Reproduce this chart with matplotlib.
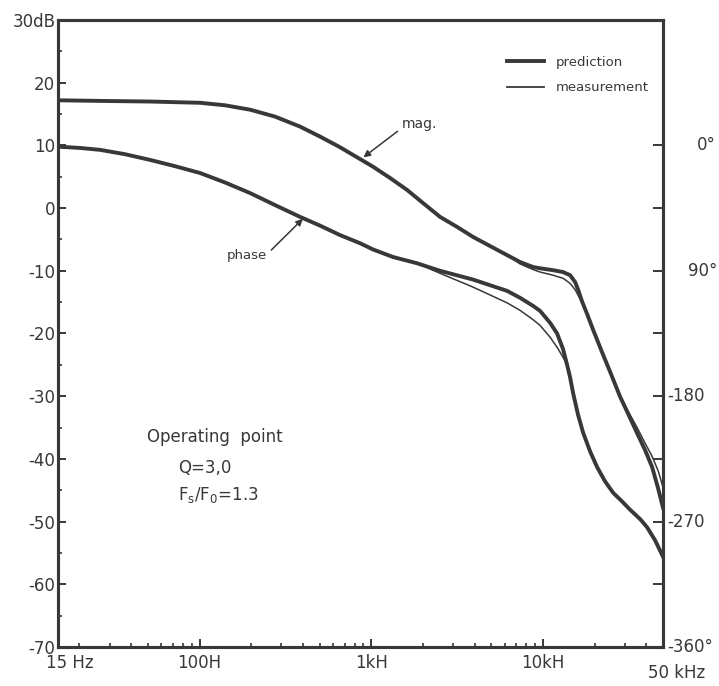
import matplotlib
matplotlib.use('Agg')
import matplotlib.pyplot as plt
from matplotlib.lines import Line2D
from matplotlib.ticker import FixedLocator, NullFormatter
from matplotlib.transforms import blended_transform_factory

# magnitude (dB)
mag_freq = [15, 26.4, 51.5, 100.7, 140.8, 197, 275, 385, 504, 659, 1025, 1288, 1617, 2004,
            2517, 3162, 3918, 6182, 7360, 8762, 9627, 11450, 13100, 14390, 15390, 16020,
            16900, 18080, 19590, 22100, 24600, 28140, 31320, 35340, 39340, 43220, 46840, 50000]
mag_pred = [17.2, 17.1, 17.0, 16.8, 16.4, 15.7, 14.6, 13.0, 11.4, 9.7, 6.6, 4.8, 2.9, 0.8,
            -1.4, -3.0, -4.6, -7.5, -8.6, -9.4, -9.6, -9.9, -10.2, -10.7, -11.8, -13.0,
            -14.9, -16.9, -19.4, -23.0, -26.1, -30.1, -32.8, -35.9, -38.6, -41.3, -44.7, -47.8]
mag_meas = [17.2, 17.1, 17.0, 16.8, 16.4, 15.7, 14.6, 13.0, 11.4, 9.7, 6.6, 4.8, 2.9, 0.8,
            -1.4, -3.0, -4.6, -7.5, -8.9, -9.8, -10.2, -10.7, -11.2, -12.0, -13.0, -13.9,
            -15.1, -16.9, -19.4, -23.0, -26.1, -29.8, -32.4, -35.0, -37.5, -39.6, -41.9, -44.5]

# phase (degrees)
ph_freq = [15, 20.1, 26.4, 36.8, 51.5, 72, 100.7, 140.8, 197, 275, 385, 504, 659, 861, 1025,
           1340, 1850, 2517, 3918, 6182, 7360, 8762, 9627, 11010, 12090, 13100, 13820,
           14390, 14980, 16020, 17130, 18810, 20670, 23010, 25620, 28910, 32180, 36790,
           40410, 45000, 50000]
ph_pred = [-0.9, -1.8, -3.2, -6.3, -10.4, -14.9, -19.8, -26.6, -34.2, -42.8, -51.3, -57.6,
           -64.4, -70.2, -74.7, -80.1, -84.6, -90.0, -96.3, -104.4, -109.4, -115.2, -118.8,
           -127.4, -135.0, -146.3, -157.5, -166.5, -177.8, -193.5, -206.1, -219.6, -230.9,
           -241.2, -249.3, -255.6, -261.5, -268.2, -274.1, -283.5, -295.2]
ph_meas = [-0.9, -1.8, -3.2, -6.3, -10.4, -14.9, -19.8, -26.6, -34.2, -42.8, -51.3, -57.6,
           -64.4, -70.2, -74.7, -80.1, -84.6, -91.8, -101.7, -113.0, -118.4, -125.1, -129.2,
           -137.7, -144.9, -152.1, -157.5, -166.5, -177.8, -193.5, -206.1, -219.6, -230.9,
           -241.2, -249.3, -255.6, -261.5, -268.2, -274.1, -283.5, -295.2]

db_ticks = [30, 20, 10, 0, -10, -20, -30, -40, -50, -60, -70]
db_labels = ['30dB', '20', '10', '0', '-10', '-20', '-30', '-40', '-50', '-60', '-70']
f_labels = ['15 Hz', '100H', '1kH', '10kH', '50 kHz']
deg_ticks = [0, -90, -180, -270, -360]
deg_labels = ['0°', '90°', '-180', '-270', '-360°']

ink = '#383838'
plt.rcParams['font.family'] = ['DejaVu Sans']
plt.rcParams['mathtext.default'] = 'regular'

fig = plt.figure(figsize=(7.19, 6.86), dpi=100)
ax = fig.add_axes([0.0807, 0.0569, 0.8414, 0.9139])
ax.set_xscale('log')
ax.set_xlim(15, 50000)
ax.set_ylim(-70, 30)

ax.plot(mag_freq, mag_meas, color=ink, lw=1.1)
ax.plot(mag_freq, mag_pred, color=ink, lw=2.8, solid_joinstyle='round')

ax2 = ax.twinx()
ax2.set_ylim(-360, 90)
ax2.plot(ph_freq, ph_meas, color=ink, lw=1.1)
ax2.plot(ph_freq, ph_pred, color=ink, lw=2.8, solid_joinstyle='round')

for a in (ax, ax2):
    for s in a.spines.values():
        s.set_linewidth(2.2)
        s.set_color(ink)

# left axis
ax.set_yticks(db_ticks, labels=db_labels)
ax.yaxis.set_minor_locator(FixedLocator([25, 15, 5, -5, -15, -25, -35, -45, -55, -65]))
ax.tick_params(axis='y', which='major', direction='in', length=6, width=1.4, pad=2,
               labelsize=12, colors=ink)
ax.tick_params(axis='y', which='minor', direction='in', length=3, width=1.2, colors=ink)

# bottom axis
minors = [m * d for d in (10, 100, 1000, 10000) for m in range(2, 10) if 15 < m * d < 50000]
ax.xaxis.set_major_locator(FixedLocator([100, 1000, 10000]))
ax.xaxis.set_minor_locator(FixedLocator(minors))
ax.xaxis.set_major_formatter(NullFormatter())
ax.xaxis.set_minor_formatter(NullFormatter())
ax.tick_params(axis='x', which='major', direction='in', length=6, width=1.4, colors=ink)
ax.tick_params(axis='x', which='minor', direction='in', length=3, width=1.2, colors=ink)

xtr = blended_transform_factory(ax.transData, ax.transAxes)
x_pos = [17.6, 100, 1000, 10000, 60000]
x_dy = [-0.026, -0.026, -0.026, -0.026, -0.042]
for f, lab, dy in zip(x_pos, f_labels, x_dy):
    ax.text(f, dy, lab, transform=xtr, ha='center', va='center', fontsize=12, color=ink)

# right axis (phase)
ax2.yaxis.set_major_locator(FixedLocator([0, -45, -90, -135, -180, -225, -270, -315, -360]))
ax2.yaxis.set_major_formatter(NullFormatter())
ax2.tick_params(axis='y', which='major', direction='in', length=7, width=1.4, colors=ink)
ytr = blended_transform_factory(ax2.transAxes, ax2.transData)
deg_x = [1.056, 1.041, 1.007, 1.007, 1.007]
for d, lab, xx in zip(deg_ticks, deg_labels, deg_x):
    ax2.text(xx, d, lab, transform=ytr, ha='left', va='center', fontsize=12, color=ink)

# curve labels
ax.annotate('mag.', xy=(900, 8.1), xytext=(1500, 13.4), ha='left', va='center',
            fontsize=10, color=ink,
            arrowprops=dict(arrowstyle='-|>', color=ink, lw=1.1, mutation_scale=10,
                            shrinkA=1, shrinkB=0, relpos=(0, 0.2)))
ax.annotate('phase', xy=(400, -1.7), xytext=(145, -7.5), ha='left', va='center',
            fontsize=9.5, color=ink,
            arrowprops=dict(arrowstyle='-|>', color=ink, lw=1.1, mutation_scale=10,
                            shrinkA=1, shrinkB=0, relpos=(1, 0.6)))

# operating point note
ax.text(49.5, -36.5, 'Operating  point', ha='left', va='center', fontsize=12, color=ink)
ax.text(75, -41.5, 'Q=3,0', ha='left', va='center', fontsize=12, color=ink)
ax.text(75, -45.8, 'F$_s$/F$_0$=1.3', ha='left', va='center', fontsize=12, color=ink)

handles = [Line2D([], [], color=ink, lw=2.8), Line2D([], [], color=ink, lw=1.3)]
ax.legend(handles, ['prediction', 'measurement'], loc='upper left',
          bbox_to_anchor=(0.742, 0.943), frameon=False, fontsize=9.5,
          handlelength=2.8, handletextpad=0.9, labelspacing=0.95,
          borderpad=0, borderaxespad=0, labelcolor=ink)

fig.savefig('out.png', dpi=100, facecolor='white')
